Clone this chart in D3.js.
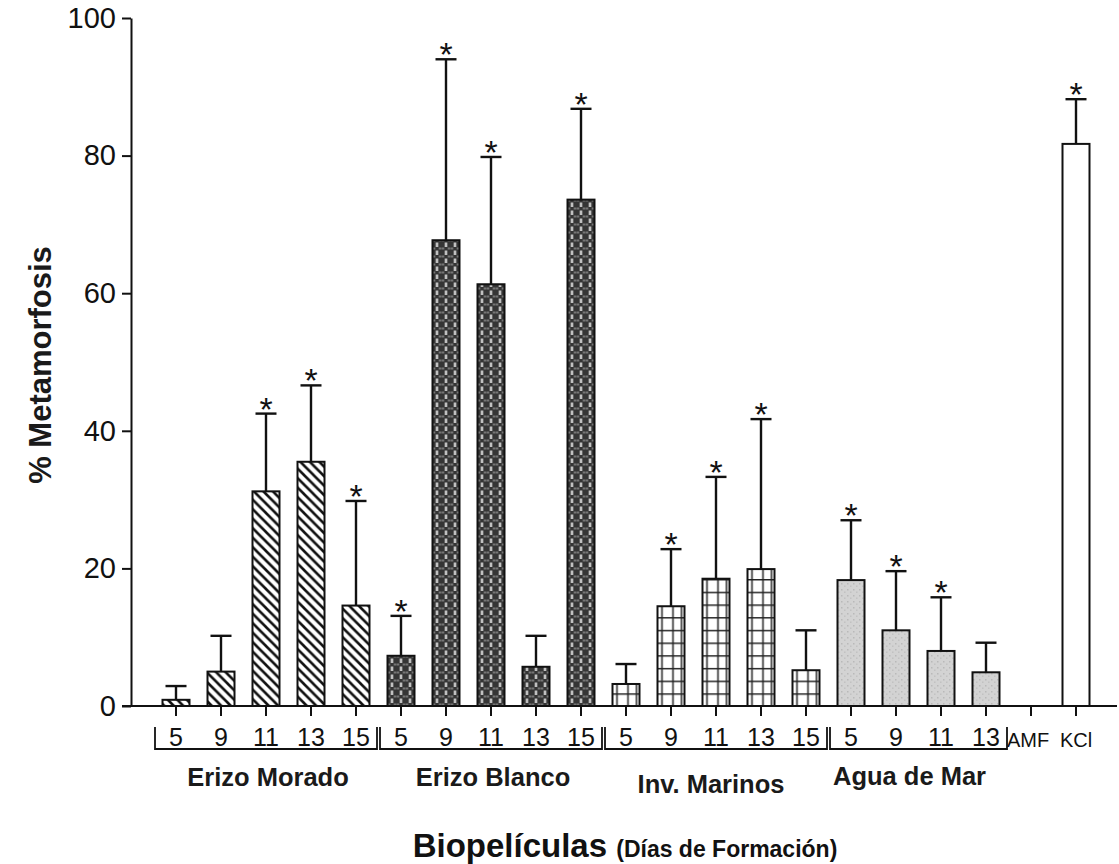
<!DOCTYPE html>
<html>
<head>
<meta charset="utf-8">
<script src="https://cdn.jsdelivr.net/npm/d3@7"></script>
<style>
  html, body { margin: 0; padding: 0; background: #fff; }
  svg { display: block; font-family: "Liberation Sans", Arial, Helvetica, sans-serif; }
</style>
</head>
<body>
<svg id="chart" width="1119" height="864"></svg>
<script>
// ---------------- data ----------------
const groups      = ["Erizo Morado", "Erizo Blanco", "Inv. Marinos", "Agua de Mar"];
const tickLabels  = ["5","9","11","13","15", "5","9","11","13","15", "5","9","11","13","15", "5","9","11","13", "AMF","KCl"];
const series      = ["EM","EM","EM","EM","EM", "EB","EB","EB","EB","EB", "IM","IM","IM","IM","IM", "AM","AM","AM","AM", "AMF","KCL"];
const means       = [0.9, 5.0, 31.2, 35.5, 14.6,   7.3, 67.7, 61.3, 5.7, 73.6,   3.2, 14.5, 18.5, 19.9, 5.2,   18.3, 11.0, 8.0, 4.9,   0, 81.7];
const errors      = [2.0, 5.2, 11.3, 11.1, 15.2,   5.8, 26.3, 18.5, 4.5, 13.2,   2.9, 8.3, 14.8, 21.8, 5.8,    8.7, 8.6, 7.8, 4.3,     0, 6.5];
const signif      = [0,0,1,1,1,  1,1,1,0,1,  0,1,1,1,0,  1,1,1,0,  0,1];
const yTicks      = [0, 20, 40, 60, 80, 100];

// ---------------- layout ----------------
const svg = d3.select("#chart");
const axisX = 131, baseY = 706, topY = 18;

const idx = d3.range(tickLabels.length);
const x = d3.scaleBand().domain(idx).range([153.5, 1098.5]).padding(0);
const y = d3.scaleLinear().domain([0, 100]).range([baseY, topY]);
const barW = x.bandwidth() * 0.6;
const cx = i => x(i) + x.bandwidth() / 2;

// ---------------- patterns ----------------
const defs = svg.append("defs");

// Erizo Morado: diagonal "\" stripes
const pEM = defs.append("pattern").attr("id", "pEM")
  .attr("patternUnits", "userSpaceOnUse").attr("width", 9.5).attr("height", 9.5);
pEM.append("rect").attr("width", 9.5).attr("height", 9.5).attr("fill", "#fff");
pEM.append("path").attr("d", "M-2,-2 L11.5,11.5 M-2,7.5 L2,11.5 M7.5,-2 L11.5,2")
  .attr("stroke", "#111").attr("stroke-width", 2.6);

// Erizo Blanco: dark with white dashed columns
const firstEB = series.indexOf("EB");
const pEB = defs.append("pattern").attr("id", "pEB")
  .attr("patternUnits", "userSpaceOnUse").attr("width", 9).attr("height", 8)
  .attr("x", cx(firstEB) - barW / 2).attr("y", baseY);
pEB.append("rect").attr("width", 9).attr("height", 8).attr("fill", "#353535");
pEB.append("rect").attr("x", 3.5).attr("y", 0.5).attr("width", 2).attr("height", 4.5).attr("fill", "#efefef");
pEB.append("rect").attr("x", 0.5).attr("y", 5.5).attr("width", 2).attr("height", 2).attr("fill", "#8a8a8a");
pEB.append("rect").attr("x", 6.5).attr("y", 5.5).attr("width", 2).attr("height", 2).attr("fill", "#8a8a8a");

// Inv. Marinos: grid
const firstIM = series.indexOf("IM");
const pIM = defs.append("pattern").attr("id", "pIM")
  .attr("patternUnits", "userSpaceOnUse").attr("width", x.step()).attr("height", 12.7)
  .attr("x", cx(firstIM) - barW / 2).attr("y", baseY);
pIM.append("rect").attr("width", x.step()).attr("height", 12.7).attr("fill", "#fff");
pIM.append("path").attr("d", "M0,0.6 H45 M4.5,0 V12.7 M15.5,0 V12.7 M24,0 V12.7")
  .attr("stroke", "#222").attr("stroke-width", 1.5);

// Agua de Mar: speckled light grey
const pAM = defs.append("pattern").attr("id", "pAM")
  .attr("patternUnits", "userSpaceOnUse").attr("width", 6).attr("height", 6);
pAM.append("rect").attr("width", 6).attr("height", 6).attr("fill", "#d3d3d3");
pAM.append("rect").attr("x", 1).attr("y", 1).attr("width", 1.5).attr("height", 1.5).attr("fill", "#b9b9b9");
pAM.append("rect").attr("x", 4).attr("y", 3.5).attr("width", 1.5).attr("height", 1.5).attr("fill", "#c2c2c2");

const fillFor = { EM: "url(#pEM)", EB: "url(#pEB)", IM: "url(#pIM)", AM: "url(#pAM)", AMF: "#fff", KCL: "#fff" };

// ---------------- bars ----------------
const bars = svg.append("g");
idx.forEach(i => {
  if (means[i] <= 0) return;
  bars.append("rect")
    .attr("x", cx(i) - barW / 2).attr("y", y(means[i]))
    .attr("width", barW).attr("height", baseY - y(means[i]))
    .attr("fill", fillFor[series[i]])
    .attr("stroke", "#111").attr("stroke-width", 2);
});

// error bars
const eb = svg.append("g").attr("stroke", "#111").attr("stroke-width", 2.4).attr("fill", "none");
idx.forEach(i => {
  if (errors[i] <= 0) return;
  const top = y(means[i] + errors[i]);
  eb.append("line").attr("x1", cx(i)).attr("x2", cx(i)).attr("y1", y(means[i])).attr("y2", top);
  eb.append("line").attr("x1", cx(i) - 10.5).attr("x2", cx(i) + 10.5).attr("y1", top).attr("y2", top);
});

// significance stars
svg.append("g").selectAll("text").data(idx.filter(i => signif[i]))
  .join("text")
  .attr("x", i => cx(i)).attr("y", i => y(means[i] + errors[i]) + 7)
  .attr("text-anchor", "middle").attr("font-size", 34).attr("fill", "#111")
  .text("*");

// ---------------- axes ----------------
const yAxis = d3.axisLeft(y).tickValues(yTicks).tickSize(9).tickSizeOuter(0).tickPadding(6);
const gy = svg.append("g").attr("transform", `translate(${axisX},0)`).call(yAxis);
gy.select(".domain").attr("stroke", "#111").attr("stroke-width", 2);
gy.selectAll(".tick line").attr("stroke", "#111").attr("stroke-width", 2);
gy.selectAll(".tick text").attr("font-size", 29).attr("fill", "#111")
  .attr("font-family", "'Liberation Sans', Arial, sans-serif");

// x axis baseline (extends to left tick and to right edge)
svg.append("line").attr("x1", axisX - 9).attr("x2", 1117).attr("y1", baseY).attr("y2", baseY)
  .attr("stroke", "#111").attr("stroke-width", 2);

const xAxis = d3.axisBottom(x).tickSize(10).tickSizeOuter(0).tickPadding(12)
  .tickFormat(i => tickLabels[i]);
const gx = svg.append("g").attr("transform", `translate(0,${baseY})`).call(xAxis);
gx.select(".domain").remove();
gx.selectAll(".tick line").attr("stroke", "#111").attr("stroke-width", 2);
gx.selectAll(".tick text")
  .attr("font-family", "'Liberation Sans', Arial, sans-serif")
  .attr("fill", "#111")
  .attr("font-size", i => tickLabels[i].length > 2 ? 20 : 25)
  .attr("dx", i => tickLabels[i] === "AMF" ? -3 : 0)
  .attr("dy", i => tickLabels[i].length > 2 ? "0.95em" : "0.71em");

// group brackets
let start = 0;
const counts = [5, 5, 5, 4];
const groupY = [786, 786, 793, 785];
const groupDx = [2, 2, -5, -9];
const br = svg.append("g").attr("stroke", "#111").attr("stroke-width", 1.8).attr("fill", "none");
groups.forEach((g, k) => {
  const a = start, b = start + counts[k] - 1;
  const x0 = x(a) + 1.5, x1 = x(b) + x.bandwidth() - 1.5;
  br.append("path").attr("d", `M${x0},727 V749 H${x1} V727`);
  svg.append("text").attr("x", (cx(a) + cx(b)) / 2 + groupDx[k]).attr("y", groupY[k])
    .attr("text-anchor", "middle").attr("font-size", 25.5).attr("font-weight", "bold").attr("fill", "#1a1a1a")
    .text(g);
  start += counts[k];
});

// y axis title
svg.append("text")
  .attr("transform", "translate(51,365) rotate(-90)")
  .attr("text-anchor", "middle").attr("font-size", 31).attr("font-weight", "bold").attr("fill", "#1a1a1a")
  .text("% Metamorfosis");

// x axis title
const t = svg.append("text").attr("x", 625).attr("y", 857)
  .attr("text-anchor", "middle").attr("font-weight", "bold").attr("fill", "#111");
t.append("tspan").attr("font-size", 33).text("Biopelículas ");
t.append("tspan").attr("font-size", 23).text("(Días de Formación)");
</script>
</body>
</html>
